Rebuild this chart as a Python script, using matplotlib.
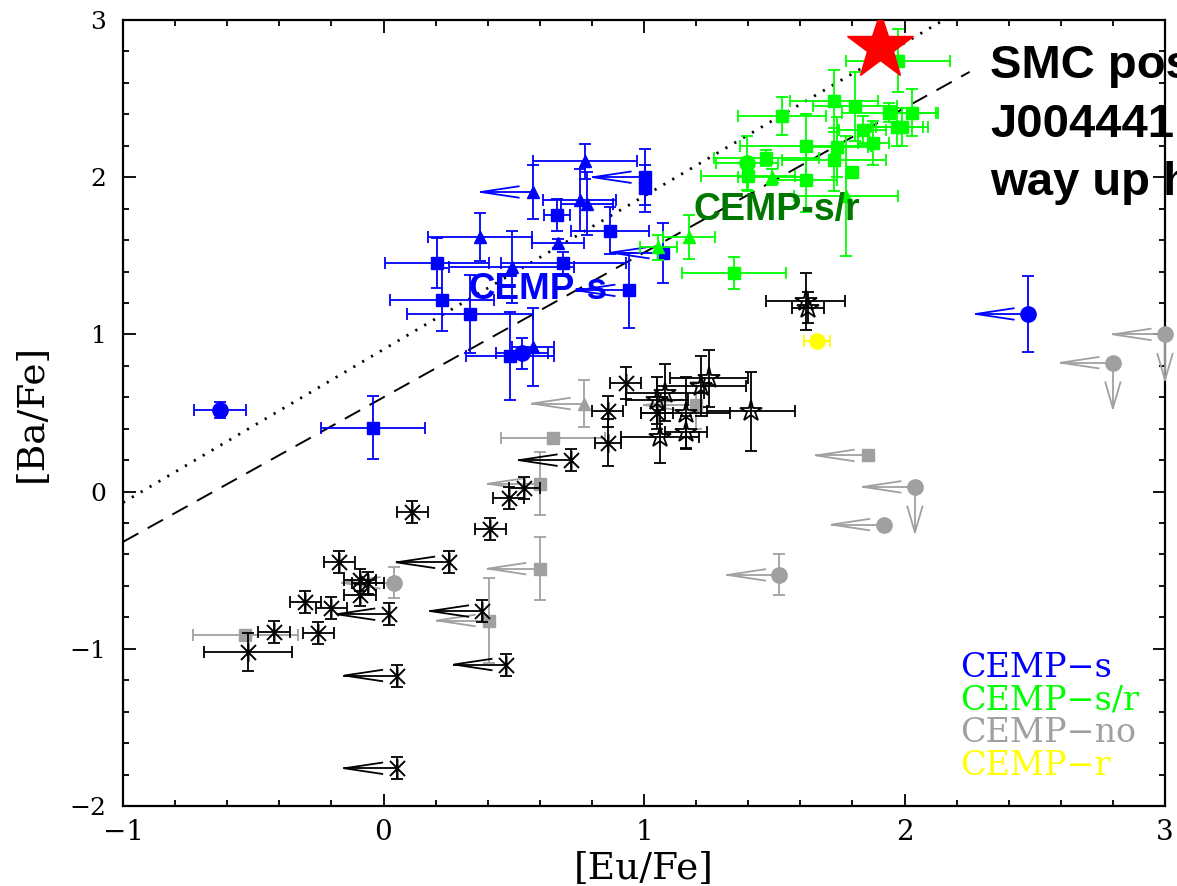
import numpy as np
import matplotlib
matplotlib.use('Agg')
import matplotlib.pyplot as plt
from matplotlib.path import Path

# ---------------- data ----------------
# CEMP-s (blue)
s_sq_x    = [1.004, 1.004, 0.666, 0.869, 0.205, 0.690, 0.224, 0.332, 0.942, 0.486, -0.040, 1.073]
s_sq_y    = [2.000, 1.930, 1.760, 1.660, 1.455, 1.455, 1.220, 1.130, 1.280, 0.860, 0.405, 1.520]
s_sq_xerr = [0.00, 0.00, 0.05, 0.15, 0.20, 0.24, 0.20, 0.24, 0.00, 0.17, 0.20, 0.00]
s_sq_yerr = [0.18, 0.15, 0.10, 0.15, 0.16, 0.07, 0.20, 0.25, 0.24, 0.28, 0.20, 0.19]
s_sq_lim  = [1, 0, 0, 0, 0, 0, 0, 0, 1, 0, 0, 1]

s_tri_x    = [0.774, 0.574, 0.754, 0.780, 0.670, 0.370, 0.493, 0.574]
s_tri_y    = [2.100, 1.906, 1.855, 1.830, 1.580, 1.620, 1.430, 0.920]
s_tri_xerr = [0.20, 0.00, 0.14, 0.10, 0.10, 0.20, 0.24, 0.08]
s_tri_yerr = [0.11, 0.17, 0.20, 0.20, 0.03, 0.15, 0.23, 0.25]
s_tri_lim  = [0, 1, 0, 0, 0, 0, 0, 0]

s_ci_x    = [-0.628, 0.530, 2.474]
s_ci_y    = [0.520, 0.880, 1.130]
s_ci_xerr = [0.10, 0.10, 0.00]
s_ci_yerr = [0.05, 0.10, 0.24]
s_ci_lim  = [0, 0, 1]

# CEMP-s/r (green)
sr_sq_x    = [1.53, 1.73, 1.81, 1.94, 2.03, 1.97, 1.99, 1.84, 1.88, 1.62, 1.62, 1.74, 1.73, 1.47, 1.40, 1.80, 1.346, 1.975]
sr_sq_y    = [2.39, 2.485, 2.45, 2.41, 2.41, 2.32, 2.32, 2.30, 2.22, 2.20, 1.98, 2.19, 2.11, 2.12, 2.01, 2.03, 1.39, 2.74]
sr_sq_xerr = [0.17, 0.17, 0.16, 0.18, 0.10, 0.10, 0.10, 0.09, 0.06, 0.25, 0.12, 0.12, 0.20, 0.20, 0.18, 0.00, 0.20, 0.20]
sr_sq_yerr = [0.12, 0.20, 0.22, 0.06, 0.15, 0.12, 0.12, 0.09, 0.14, 0.20, 0.20, 0.19, 0.20, 0.05, 0.10, 0.00, 0.10, 0.20]

sr_tri_x    = [1.49, 1.775, 1.173, 1.055]
sr_tri_y    = [2.00, 1.88, 1.62, 1.555]
sr_tri_xerr = [0.13, 0.20, 0.10, 0.07]
sr_tri_yerr = [0.05, 0.38, 0.14, 0.08]

sr_ci_x    = [1.395]
sr_ci_y    = [2.09]
sr_ci_xerr = [0.12]
sr_ci_yerr = [0.17]

# CEMP-r (yellow)
r_x    = [1.664]
r_y    = [0.96]
r_xerr = [0.05]
r_yerr = [0.03]

# CEMP-no (grey)
no_sq_x    = [0.65, 0.60, 0.60, 1.20, 1.86, -0.53, 0.405]
no_sq_y    = [0.34, 0.05, -0.49, 0.55, 0.23, -0.91, -0.82]
no_sq_xerr = [0.20, 0.00, 0.00, 0.00, 0.00, 0.20, 0.00]
no_sq_yerr = [0.00, 0.20, 0.20, 0.15, 0.00, 0.00, 0.27]
no_sq_lim  = [0, 1, 1, 1, 1, 0, 1]

no_tri_x    = [0.77]
no_tri_y    = [0.56]
no_tri_xerr = [0.00]
no_tri_yerr = [0.15]
no_tri_lim  = [1]

no_ci_x    = [2.04, 1.92, 2.80, 3.00, 1.52, 0.04]
no_ci_y    = [0.03, -0.21, 0.82, 1.00, -0.53, -0.58]
no_ci_xerr = [0.0, 0.0, 0.0, 0.0, 0.0, 0.0]
no_ci_yerr = [0.00, 0.00, 0.00, 0.00, 0.13, 0.10]
no_ci_lim  = [1, 1, 1, 1, 1, 1]
no_ci_ylim = [1, 0, 1, 1, 0, 0]

# black asterisks
ast_x    = [-0.52, -0.42, -0.30, -0.25, -0.20, -0.17, -0.09, -0.06, -0.09, 0.02, 0.25, 0.41,
            0.38, 0.47, 0.05, 0.05, 0.11, 0.93, 0.86, 0.86, 0.72, 0.54, 0.48, 1.05]
ast_y    = [-1.02, -0.89, -0.70, -0.90, -0.74, -0.45, -0.56, -0.58, -0.66, -0.78, -0.45, -0.24,
            -0.76, -1.10, -1.17, -1.76, -0.13, 0.69, 0.51, 0.31, 0.20, 0.02, -0.04, 0.50]
ast_xerr = [0.17, 0.06, 0.06, 0.06, 0.06, 0.06, 0.06, 0.06, 0.06, 0.00, 0.00, 0.06,
            0.00, 0.00, 0.00, 0.00, 0.06, 0.06, 0.06, 0.05, 0.00, 0.06, 0.06, 0.06]
ast_yerr = [0.12, 0.07, 0.07, 0.07, 0.07, 0.07, 0.07, 0.07, 0.07, 0.07, 0.07, 0.07,
            0.07, 0.07, 0.07, 0.07, 0.07, 0.10, 0.10, 0.15, 0.07, 0.07, 0.07, 0.10]
ast_lim  = [0, 0, 0, 0, 0, 0, 0, 0, 0, 1, 1, 0, 1, 1, 1, 1, 0, 0, 0, 0, 1, 0, 0, 0]

# black open stars
ost_x    = [1.08, 1.05, 1.16, 1.16, 1.06, 1.25, 1.22, 1.41, 1.62, 1.63]
ost_y    = [0.63, 0.58, 0.50, 0.38, 0.35, 0.72, 0.67, 0.51, 1.21, 1.17]
ost_xerr = [0.15, 0.12, 0.17, 0.08, 0.15, 0.15, 0.17, 0.17, 0.15, 0.06]
ost_yerr = [0.18, 0.15, 0.23, 0.10, 0.17, 0.18, 0.19, 0.25, 0.18, 0.10]

# SMC post-AGB star
smc_x = [1.906]
smc_y = [2.83]

# reference lines
dotted_x = [-1.0, 2.15]
dotted_y = [-0.07, 3.0]
dashed_x = [-1.0, 2.25]
dashed_y = [-0.32, 2.67]

legend_labels = ['CEMP\u2212s', 'CEMP\u2212s/r', 'CEMP\u2212no', 'CEMP\u2212r']
smc_lines = ['SMC post-AGB star', 'J004441.04-732136.4', 'way up here!']

# ---------------- styles ----------------
BLUE = '#0000ff'
GREEN = '#00ff00'
GREY = '#a0a0a0'
YELLOW = '#ffff00'
BLACK = '#000000'
LW = 1.3
CAP = 4.4
ARROW_LEN, HEAD_LEN, HEAD_HW = 0.20, 0.145, 0.036
DOWN_LEN, DHEAD_LEN, DHEAD_HW = 0.29, 0.165, 0.029

fig = plt.figure(figsize=(11.77, 8.86), dpi=100)
ax = fig.add_axes([123/1177, 1-806/886, (1165-123)/1177, (806-20)/886])
ax.set_xlim(-1, 3)
ax.set_ylim(-2, 3)

ax.plot(dotted_x, dotted_y, color='black', lw=2.0, ls=(0, (0.8, 2.9)), zorder=2)
ax.plot(dashed_x, dashed_y, color='black', lw=1.4, ls=(0, (9.0, 5.5)), zorder=2)

ast_path = Path([(0, -1), (0, 1), (-0.8, -0.8), (0.8, 0.8), (-0.8, 0.8), (0.8, -0.8)],
                [Path.MOVETO, Path.LINETO, Path.MOVETO, Path.LINETO, Path.MOVETO, Path.LINETO])


def draw_group(x, y, xerr, yerr, color, marker, ms, xlim=None, ylim=None,
               mfc=None, mew=1.0, z=3, clip=True):
    x = np.asarray(x, float); y = np.asarray(y, float)
    xerr = np.asarray(xerr, float); yerr = np.asarray(yerr, float)
    m = xerr > 0
    if m.any():
        ax.errorbar(x[m], y[m], xerr=xerr[m], fmt='none', ecolor=color, elinewidth=LW,
                    capsize=CAP, capthick=LW, zorder=z)
    m = yerr > 0
    if m.any():
        ax.errorbar(x[m], y[m], yerr=yerr[m], fmt='none', ecolor=color, elinewidth=LW,
                    capsize=CAP, capthick=LW, zorder=z)
    if xlim is not None:
        for xi, yi, l in zip(x, y, xlim):
            if l:
                tip = xi - ARROW_LEN
                ax.plot([xi, tip], [yi, yi], color=color, lw=LW, zorder=z, clip_on=clip)
                ax.plot([tip + HEAD_LEN, tip, tip + HEAD_LEN], [yi + HEAD_HW, yi, yi - HEAD_HW],
                        color=color, lw=LW, zorder=z, clip_on=clip)
    if ylim is not None:
        for xi, yi, l in zip(x, y, ylim):
            if l:
                tip = yi - DOWN_LEN
                ax.plot([xi, xi], [yi, tip], color=color, lw=LW, zorder=z, clip_on=clip)
                ax.plot([xi - DHEAD_HW, xi, xi + DHEAD_HW], [tip + DHEAD_LEN, tip, tip + DHEAD_LEN],
                        color=color, lw=LW, zorder=z, clip_on=clip)
    ax.plot(x, y, ls='none', marker=marker, ms=ms, mfc=color if mfc is None else mfc,
            mec=color, mew=mew, zorder=z + 1, clip_on=clip)


# grey CEMP-no
draw_group(no_sq_x, no_sq_y, no_sq_xerr, no_sq_yerr, GREY, 's', 8, xlim=no_sq_lim, z=3)
draw_group(no_tri_x, no_tri_y, no_tri_xerr, no_tri_yerr, GREY, '^', 8.5, xlim=no_tri_lim, z=3)
draw_group(no_ci_x, no_ci_y, no_ci_xerr, no_ci_yerr, GREY, 'o', 11, xlim=no_ci_lim,
           ylim=no_ci_ylim, z=3, clip=False)
# black
draw_group(ast_x, ast_y, ast_xerr, ast_yerr, BLACK, ast_path, 13.5, xlim=ast_lim, mew=1.4, z=5)
draw_group(ost_x, ost_y, ost_xerr, ost_yerr, BLACK, '*', 16, mfc='none', mew=1.3, z=5)
# yellow
draw_group(r_x, r_y, r_xerr, r_yerr, YELLOW, 'o', 11, z=5)
# blue CEMP-s
draw_group(s_sq_x, s_sq_y, s_sq_xerr, s_sq_yerr, BLUE, 's', 8, xlim=s_sq_lim, z=7)
draw_group(s_tri_x, s_tri_y, s_tri_xerr, s_tri_yerr, BLUE, '^', 8.5, xlim=s_tri_lim, z=7)
draw_group(s_ci_x, s_ci_y, s_ci_xerr, s_ci_yerr, BLUE, 'o', 11, xlim=s_ci_lim, z=7)
# green CEMP-s/r
draw_group(sr_sq_x, sr_sq_y, sr_sq_xerr, sr_sq_yerr, GREEN, 's', 8, z=9)
draw_group(sr_tri_x, sr_tri_y, sr_tri_xerr, sr_tri_yerr, GREEN, '^', 8.5, z=9)
draw_group(sr_ci_x, sr_ci_y, sr_ci_xerr, sr_ci_yerr, GREEN, 'o', 11, z=9)

# SMC star
ax.plot(smc_x, smc_y, ls='none', marker='*', ms=50, color='#ff0000', mec='#ff0000', zorder=12)

# labels in plot
ax.text(0.593, 1.283, 'CEMP-s', color=BLUE, fontsize=26.5, fontweight='bold',
        family='Liberation Sans', ha='center', va='center', zorder=8)
ax.text(1.51, 1.79, 'CEMP-s/r', color='#007800', fontsize=27, fontweight='bold',
        family='Liberation Sans', ha='center', va='center', zorder=10)

# legend-like text
leg_colors = [BLUE, GREEN, GREY, YELLOW]
leg_y = [-1.122, -1.326, -1.536, -1.746]
for lab, c, yy in zip(legend_labels, leg_colors, leg_y):
    ax.text(2.213, yy, lab, color=c, fontsize=24, family='DejaVu Serif',
            ha='left', va='center', zorder=10)

# annotation text (runs off the right edge of the figure, as in the original)
smc_base = [1 - 78/886, 1 - 137/886, 1 - 195/886]
for line, yb in zip(smc_lines, smc_base):
    fig.text(990/1177, yb, line, fontsize=34, fontweight='bold', family='Liberation Sans',
             ha='left', va='baseline', color='black')

# axes styling
for sp in ax.spines.values():
    sp.set_linewidth(1.6)
ax.set_xticks([-1, 0, 1, 2, 3])
ax.set_yticks([-2, -1, 0, 1, 2, 3])
ax.set_xticks(np.arange(-1, 3.01, 0.2), minor=True)
ax.set_yticks(np.arange(-2, 3.01, 0.2), minor=True)
ax.tick_params(which='both', direction='in', top=True, right=True, width=1.3)
ax.tick_params(which='major', length=9)
ax.tick_params(which='minor', length=4.5)
ax.tick_params(axis='x', labelsize=20, pad=9)
ax.tick_params(axis='y', labelsize=18, pad=12)
for lbl in ax.get_xticklabels() + ax.get_yticklabels():
    lbl.set_family('DejaVu Serif')
ax.set_xlabel('[Eu/Fe]', fontsize=27, family='DejaVu Serif', labelpad=4)
ax.set_ylabel('[Ba/Fe]', fontsize=27, family='DejaVu Serif', labelpad=14)

fig.savefig('out.png', dpi=100)
